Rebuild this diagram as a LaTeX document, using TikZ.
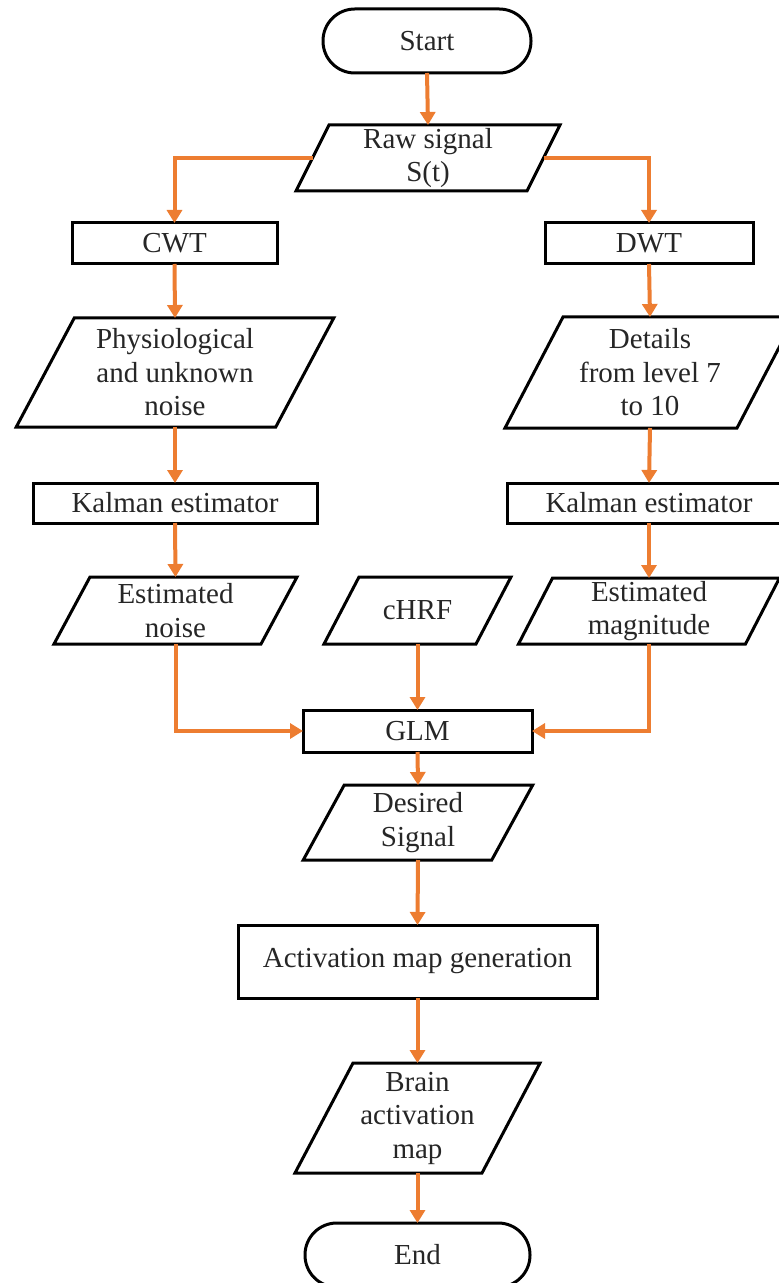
\documentclass[tikz,border=0pt]{standalone}
\usepackage{fontspec}
\setmainfont{Liberation Serif}
\usetikzlibrary{arrows.meta,calc}
\definecolor{arrorange}{HTML}{ED7D31}
\definecolor{txtgray}{HTML}{262626}
\begin{document}
\begin{tikzpicture}[x=0.5pt,y=-0.5pt,
  every node/.style={font=\fontsize{14.5}{16.75}\selectfont, text=txtgray, align=center, inner sep=0pt, outer sep=0pt},
  procbox/.style={draw=black, line width=1.5pt, rectangle},
  termbox/.style={draw=black, line width=1.5pt, rectangle, rounded corners=15.9pt},
  iobox/.style={rectangle},
  paraline/.style={draw=black, line width=1.5pt, line join=miter},
  flow/.style={draw=arrorange, line width=2pt, -{Triangle[width=7.5pt,length=6.5pt]}}
]
\useasboundingbox (0,0) rectangle (779,1283);

\node[termbox, minimum width=104pt, minimum height=32pt] (start) at (427,41) {Start};
\node[iobox, minimum width=115.5pt, minimum height=33pt] (raw) at (428,158) {Raw signal\\S(t)};
\node[procbox, minimum width=102.5pt, minimum height=20.5pt] (cwt) at (174.5,243.5) {CWT};
\node[procbox, minimum width=104pt, minimum height=20.5pt] (dwt) at (649,243.5) {DWT};
\node[iobox, minimum width=129.75pt, minimum height=54.5pt] (phys) at (175,372.5) {Physiological\\and unknown\\noise};
\node[iobox, minimum width=116pt, minimum height=55.5pt] (det) at (650,372.5) {Details\\from level 7\\to 10};
\node[procbox, minimum width=142pt, minimum height=20pt] (kall) at (175,503) {Kalman estimator};
\node[procbox, minimum width=142pt, minimum height=20pt] (kalr) at (649,503) {Kalman estimator};
\node[iobox, minimum width=103.5pt, minimum height=33.5pt] (noise) at (175.5,610.5) {Estimated\\noise};
\node[iobox, minimum width=76pt, minimum height=33.5pt] (chrf) at (417.5,610.5) {cHRF};
\node[iobox, minimum width=113.5pt, minimum height=33pt] (mag) at (649,611) {Estimated\\magnitude};
\node[procbox, minimum width=114.5pt, minimum height=21pt] (glm) at (417.5,731) {GLM};
\node[iobox, minimum width=94.25pt, minimum height=37.5pt] (des) at (418,822.5) {Desired\\Signal};
\node[procbox, minimum width=179.5pt, minimum height=36.5pt] (act) at (417.5,961.5) {Activation map generation};
\node[iobox, minimum width=93.5pt, minimum height=55pt] (brain) at (417.5,1118) {Brain\\activation\\map};
\node[termbox, minimum width=112.5pt, minimum height=32pt] (end) at (417.5,1255) {End};

\foreach \n/\s in {raw/33, phys/58, det/58, noise/36, chrf/35, mag/34, des/41, brain/58}
  \draw[paraline] ($(\n.north west)+(\s/2,0)$) -- ($(\n.north east)+(\s/2,0)$)
     -- ($(\n.south east)-(\s/2,0)$) -- ($(\n.south west)-(\s/2,0)$) -- cycle;

\draw[flow] (start.south) -- (raw.north);
\draw[flow] (raw.west) -| (cwt.north);
\draw[flow] (raw.east) -| (dwt.north);
\draw[flow] (cwt.south) -- (phys.north);
\draw[flow] (dwt.south) -- (det.north);
\draw[flow] (phys.south) -- (kall.north);
\draw[flow] (det.south) -- (kalr.north);
\draw[flow] (kall.south) -- (noise.north);
\draw[flow] (kalr.south) -- (mag.north);
\draw[flow] (noise.south) |- (glm.west);
\draw[flow] (mag.south) |- (glm.east);
\draw[flow] (chrf.south) -- (glm.north);
\draw[flow] (glm.south) -- (des.north);
\draw[flow] (des.south) -- (act.north);
\draw[flow] (act.south) -- (brain.north);
\draw[flow] (brain.south) -- (end.north);
\end{tikzpicture}
\end{document}
